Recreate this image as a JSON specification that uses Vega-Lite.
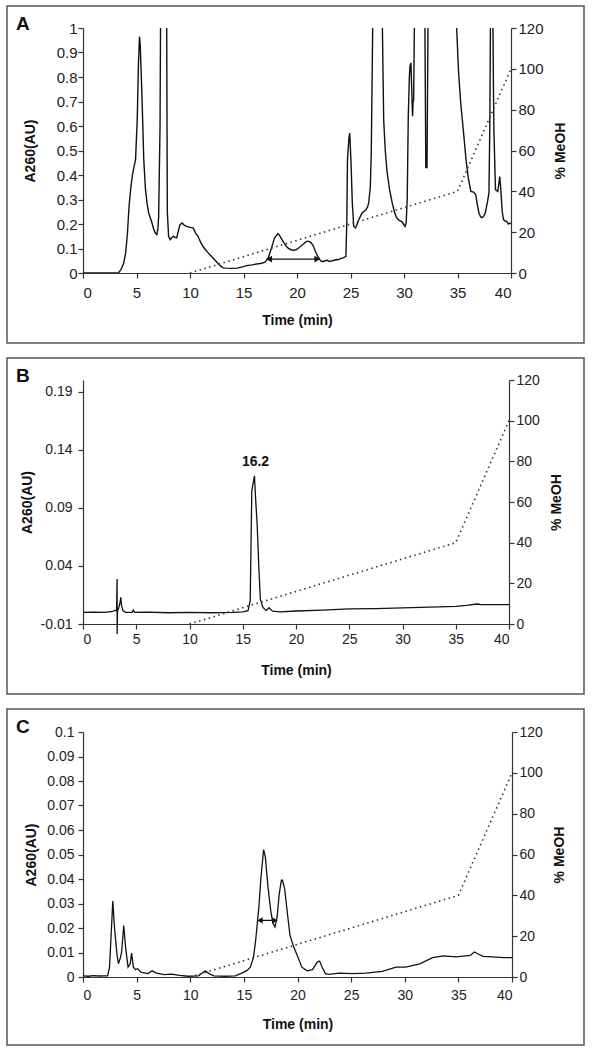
{
  "$schema": "https://vega.github.io/schema/vega-lite/v6.json",
  "padding": {"left": 6, "top": 5, "right": 5, "bottom": 0},
  "background": "white",
  "spacing": 13,
  "datasets": {
    "A": [
      {"t":0,"a":0},{"t":3.3,"a":0},{"t":3.53,"a":0.013},{"t":3.8,"a":0.04},{"t":3.99,"a":0.082},{"t":4.15,"a":0.16},{"t":4.3,"a":0.27},{"t":4.45,"a":0.34},{"t":4.6,"a":0.394},{"t":4.75,"a":0.43},{"t":4.91,"a":0.462},{"t":5.07,"a":0.626},{"t":5.18,"a":0.85},{"t":5.28,"a":0.965},{"t":5.35,"a":0.93},{"t":5.45,"a":0.8},{"t":5.53,"a":0.694},{"t":5.68,"a":0.462},{"t":5.84,"a":0.34},{"t":6.0,"a":0.28},{"t":6.14,"a":0.245},{"t":6.45,"a":0.204},{"t":6.6,"a":0.18},{"t":6.76,"a":0.163},{"t":6.9,"a":0.157},{"t":7.0,"a":0.18},{"t":7.07,"a":0.23},{"t":7.2,"a":0.6},{"t":7.28,"a":1.3},{"t":7.55,"a":1.8},{"t":7.8,"a":1.3},{"t":7.88,"a":0.25},{"t":8.0,"a":0.15},{"t":8.14,"a":0.136},{"t":8.3,"a":0.145},{"t":8.45,"a":0.15},{"t":8.6,"a":0.145},{"t":8.75,"a":0.143},{"t":8.9,"a":0.17},{"t":9.06,"a":0.197},{"t":9.27,"a":0.204},{"t":9.45,"a":0.195},{"t":9.67,"a":0.19},{"t":10.0,"a":0.186},{"t":10.3,"a":0.184},{"t":10.5,"a":0.165},{"t":10.75,"a":0.15},{"t":11.0,"a":0.125},{"t":11.2,"a":0.109},{"t":11.45,"a":0.095},{"t":11.7,"a":0.082},{"t":12.0,"a":0.068},{"t":12.3,"a":0.054},{"t":12.6,"a":0.04},{"t":12.9,"a":0.027},{"t":13.1,"a":0.021},{"t":13.36,"a":0.02},{"t":13.9,"a":0.019},{"t":14.4,"a":0.02},{"t":14.9,"a":0.025},{"t":15.3,"a":0.03},{"t":15.8,"a":0.033},{"t":16.25,"a":0.037},{"t":16.7,"a":0.04},{"t":17.0,"a":0.044},{"t":17.3,"a":0.06},{"t":17.6,"a":0.1},{"t":17.9,"a":0.143},{"t":18.2,"a":0.16},{"t":18.35,"a":0.155},{"t":18.5,"a":0.143},{"t":18.75,"a":0.125},{"t":19.0,"a":0.109},{"t":19.2,"a":0.1},{"t":19.45,"a":0.095},{"t":19.7,"a":0.093},{"t":19.9,"a":0.095},{"t":20.1,"a":0.1},{"t":20.35,"a":0.109},{"t":20.6,"a":0.118},{"t":20.85,"a":0.128},{"t":21.05,"a":0.13},{"t":21.3,"a":0.124},{"t":21.5,"a":0.113},{"t":21.7,"a":0.09},{"t":21.97,"a":0.066},{"t":22.2,"a":0.05},{"t":22.4,"a":0.046},{"t":22.6,"a":0.05},{"t":22.85,"a":0.052},{"t":23.0,"a":0.047},{"t":23.3,"a":0.05},{"t":23.65,"a":0.054},{"t":23.9,"a":0.055},{"t":24.1,"a":0.06},{"t":24.3,"a":0.062},{"t":24.5,"a":0.066},{"t":24.57,"a":0.068},{"t":24.65,"a":0.2},{"t":24.72,"a":0.462},{"t":24.85,"a":0.55},{"t":24.93,"a":0.571},{"t":25.0,"a":0.5},{"t":25.05,"a":0.45},{"t":25.17,"a":0.286},{"t":25.3,"a":0.19},{"t":25.47,"a":0.184},{"t":25.62,"a":0.2},{"t":25.78,"a":0.218},{"t":26.08,"a":0.245},{"t":26.4,"a":0.256},{"t":26.6,"a":0.27},{"t":26.7,"a":0.286},{"t":26.85,"a":0.35},{"t":26.94,"a":0.49},{"t":27.03,"a":0.83},{"t":27.1,"a":1.1},{"t":27.5,"a":1.9},{"t":27.95,"a":1.1},{"t":28.1,"a":0.626},{"t":28.25,"a":0.5},{"t":28.4,"a":0.42},{"t":28.65,"a":0.34},{"t":28.9,"a":0.286},{"t":29.1,"a":0.25},{"t":29.3,"a":0.226},{"t":29.55,"a":0.215},{"t":29.8,"a":0.21},{"t":29.95,"a":0.2},{"t":30.1,"a":0.19},{"t":30.2,"a":0.204},{"t":30.3,"a":0.3},{"t":30.4,"a":0.64},{"t":30.5,"a":0.8},{"t":30.56,"a":0.843},{"t":30.65,"a":0.857},{"t":30.72,"a":0.75},{"t":30.8,"a":0.64},{"t":30.85,"a":0.7},{"t":30.9,"a":0.707},{"t":30.98,"a":1.05},{"t":31.4,"a":1.8},{"t":31.95,"a":1.05},{"t":32.04,"a":0.43},{"t":32.15,"a":0.43},{"t":32.25,"a":1.05},{"t":33.5,"a":2.2},{"t":34.87,"a":1.05},{"t":35.1,"a":0.82},{"t":35.3,"a":0.694},{"t":35.55,"a":0.58},{"t":35.8,"a":0.462},{"t":36.0,"a":0.39},{"t":36.25,"a":0.333},{"t":36.5,"a":0.33},{"t":36.7,"a":0.32},{"t":36.85,"a":0.28},{"t":37.0,"a":0.246},{"t":37.15,"a":0.23},{"t":37.3,"a":0.226},{"t":37.45,"a":0.232},{"t":37.6,"a":0.246},{"t":37.8,"a":0.29},{"t":37.94,"a":0.327},{"t":38.02,"a":0.6},{"t":38.09,"a":1.1},{"t":38.3,"a":1.1},{"t":38.35,"a":0.8},{"t":38.4,"a":0.585},{"t":38.55,"a":0.34},{"t":38.76,"a":0.333},{"t":38.88,"a":0.37},{"t":38.95,"a":0.394},{"t":39.07,"a":0.327},{"t":39.18,"a":0.25},{"t":39.3,"a":0.218},{"t":39.45,"a":0.212},{"t":39.6,"a":0.211},{"t":39.75,"a":0.2},{"t":39.9,"a":0.204},{"t":40,"a":0.2}
    ],
    "B": [
      {"t":0,"a":0.0},{"t":1,"a":0.0003},{"t":2,"a":0.0},{"t":2.8,"a":0.0008},{"t":3.0,"a":0.0018},{"t":3.15,"a":0.001},{"t":3.2,"a":0.0287},{"t":3.21,"a":-0.0186},{"t":3.24,"a":0.001},{"t":3.35,"a":0.004},{"t":3.45,"a":0.0072},{"t":3.55,"a":0.0129},{"t":3.62,"a":0.006},{"t":3.75,"a":0.0015},{"t":4.0,"a":0.0},{"t":4.6,"a":0.0},{"t":4.72,"a":0.002},{"t":4.85,"a":0.0},{"t":6,"a":0.0003},{"t":8,"a":-0.0003},{"t":10,"a":0.0},{"t":12,"a":-0.0003},{"t":14,"a":0.0},{"t":15.0,"a":0.0005},{"t":15.5,"a":0.0015},{"t":15.7,"a":0.01},{"t":15.85,"a":0.1046},{"t":15.95,"a":0.11},{"t":16.1,"a":0.1175},{"t":16.2,"a":0.099},{"t":16.35,"a":0.076},{"t":16.5,"a":0.0416},{"t":16.65,"a":0.0115},{"t":16.9,"a":0.0043},{"t":17.2,"a":0.0015},{"t":17.45,"a":0.004},{"t":17.8,"a":0.001},{"t":18.5,"a":0.0005},{"t":20,"a":0.0012},{"t":22.5,"a":0.002},{"t":25,"a":0.003},{"t":27.5,"a":0.0033},{"t":30,"a":0.0038},{"t":32.5,"a":0.0045},{"t":35,"a":0.0052},{"t":36,"a":0.006},{"t":37,"a":0.0072},{"t":37.3,"a":0.0068},{"t":38.5,"a":0.0066},{"t":40,"a":0.0066}
    ],
    "C": [
      {"t":0,"a":0.0005},{"t":0.5,"a":0.0003},{"t":1,"a":0.0006},{"t":1.5,"a":0.0004},{"t":2,"a":0.0005},{"t":2.3,"a":0.0005},{"t":2.47,"a":0.004},{"t":2.63,"a":0.0177},{"t":2.78,"a":0.031},{"t":2.94,"a":0.02},{"t":3.16,"a":0.0095},{"t":3.3,"a":0.0054},{"t":3.5,"a":0.008},{"t":3.6,"a":0.0102},{"t":3.8,"a":0.021},{"t":3.97,"a":0.0122},{"t":4.2,"a":0.004},{"t":4.4,"a":0.0054},{"t":4.53,"a":0.0098},{"t":4.7,"a":0.004},{"t":4.9,"a":0.003},{"t":5.1,"a":0.0034},{"t":5.4,"a":0.002},{"t":6.06,"a":0.0014},{"t":6.44,"a":0.0025},{"t":6.84,"a":0.0016},{"t":7.6,"a":0.001},{"t":8.25,"a":0.0012},{"t":9.0,"a":0.0007},{"t":9.8,"a":0.0003},{"t":10.75,"a":0.0005},{"t":11.06,"a":0.0014},{"t":11.4,"a":0.0025},{"t":11.75,"a":0.0014},{"t":12.2,"a":0.0005},{"t":13.25,"a":0.0003},{"t":14.2,"a":0.0005},{"t":14.8,"a":0.0016},{"t":15.3,"a":0.0027},{"t":15.6,"a":0.004},{"t":15.9,"a":0.008},{"t":16.1,"a":0.015},{"t":16.4,"a":0.0286},{"t":16.6,"a":0.041},{"t":16.84,"a":0.052},{"t":17.0,"a":0.049},{"t":17.25,"a":0.0367},{"t":17.5,"a":0.0272},{"t":17.7,"a":0.022},{"t":17.9,"a":0.0204},{"t":18.1,"a":0.0245},{"t":18.3,"a":0.034},{"t":18.5,"a":0.0395},{"t":18.6,"a":0.0395},{"t":18.8,"a":0.036},{"t":19.06,"a":0.0259},{"t":19.3,"a":0.017},{"t":19.65,"a":0.0122},{"t":20.1,"a":0.0075},{"t":20.4,"a":0.004},{"t":20.9,"a":0.0025},{"t":21.4,"a":0.003},{"t":21.84,"a":0.0061},{"t":22.06,"a":0.0065},{"t":22.3,"a":0.004},{"t":22.6,"a":0.0014},{"t":22.9,"a":0.0011},{"t":23.9,"a":0.0016},{"t":25.1,"a":0.0014},{"t":26.4,"a":0.0016},{"t":27.9,"a":0.0023},{"t":29.2,"a":0.004},{"t":30.1,"a":0.004},{"t":31.4,"a":0.0054},{"t":32.6,"a":0.0079},{"t":33.6,"a":0.0086},{"t":34.8,"a":0.0082},{"t":36.1,"a":0.0088},{"t":36.5,"a":0.0102},{"t":36.8,"a":0.0095},{"t":37.3,"a":0.0084},{"t":38.2,"a":0.0082},{"t":39.2,"a":0.0079},{"t":40,"a":0.0079}
    ],
    "meoh": [{"t":10,"m":0},{"t":35,"m":40},{"t":40,"m":100}],
    "arrowA": [{"t":17.4,"a":0.057,"dir":"left"},{"t":21.9,"a":0.057,"dir":"right"}],
    "arrowC": [{"t":16.5,"a":0.0231,"dir":"left"},{"t":17.9,"a":0.0231,"dir":"right"}],
    "labelB": [{"t":16.2,"a":0.1235,"label":"16.2"}]
  },
  "vconcat": [
    {
      "title": {"text": "A", "anchor": "start", "frame": "group", "dx": -67, "dy": 44, "fontSize": 19, "fontWeight": "bold", "color": "#111", "offset": 0, "baseline": "alphabetic"},
      "width": 428, "height": 245,
      "layer": [
        {"layer": [
          {"data": {"name": "A"}, "mark": {"type": "line", "color": "#111", "strokeWidth": 1.4, "clip": true},
           "encoding": {
             "x": {"field": "t", "type": "quantitative", "scale": {"domain": [0, 40]}, "axis": {"title": "Time (min)", "values": [0,5,10,15,20,25,30,35,40], "labelPadding": 7, "titlePadding": 13, "labelFontSize": 15}},
             "y": {"field": "a", "type": "quantitative", "scale": {"domain": [0, 1]}, "axis": {"title": "A260(AU)", "values": [0,0.1,0.2,0.3,0.4,0.5,0.6,0.7,0.8,0.9,1], "tickCount": 11, "format": "~g", "labelOverlap": false, "labelPadding": 1, "titlePadding": 19, "labelFontSize": 15}}}},
          {"data": {"values": [{}]}, "mark": {"type": "rect", "fill": "transparent", "stroke": "#555", "strokeWidth": 1.5, "clip": false},
           "encoding": {"x": {"datum": -7.103, "type": "quantitative", "scale": {"domain": [0, 40]}, "axis": {"title": "Time (min)", "values": [0,5,10,15,20,25,30,35,40], "labelPadding": 7, "titlePadding": 13, "labelFontSize": 15}}, "x2": {"datum": 46.822},
                        "y": {"datum": 1.0898, "type": "quantitative", "scale": {"domain": [0, 1]}, "axis": {"title": "A260(AU)", "values": [0,0.1,0.2,0.3,0.4,0.5,0.6,0.7,0.8,0.9,1], "tickCount": 11, "format": "~g", "labelOverlap": false, "labelPadding": 1, "titlePadding": 19, "labelFontSize": 15}}, "y2": {"datum": -0.2857}}},
          {"data": {"name": "arrowA"}, "mark": {"type": "line", "color": "#111", "strokeWidth": 1.3},
           "encoding": {"x": {"field": "t", "type": "quantitative", "scale": {"domain": [0, 40]}, "axis": {"title": "Time (min)", "values": [0,5,10,15,20,25,30,35,40], "labelPadding": 7, "titlePadding": 13, "labelFontSize": 15}},
                        "y": {"field": "a", "type": "quantitative", "scale": {"domain": [0, 1]}, "axis": {"title": "A260(AU)", "values": [0,0.1,0.2,0.3,0.4,0.5,0.6,0.7,0.8,0.9,1], "tickCount": 11, "format": "~g", "labelOverlap": false, "labelPadding": 1, "titlePadding": 19, "labelFontSize": 15}}}},
          {"data": {"name": "arrowA"}, "mark": {"type": "point", "filled": true, "color": "#111", "size": 45, "opacity": 1},
           "encoding": {"x": {"field": "t", "type": "quantitative", "scale": {"domain": [0, 40]}, "axis": {"title": "Time (min)", "values": [0,5,10,15,20,25,30,35,40], "labelPadding": 7, "titlePadding": 13, "labelFontSize": 15}},
                        "y": {"field": "a", "type": "quantitative", "scale": {"domain": [0, 1]}, "axis": {"title": "A260(AU)", "values": [0,0.1,0.2,0.3,0.4,0.5,0.6,0.7,0.8,0.9,1], "tickCount": 11, "format": "~g", "labelOverlap": false, "labelPadding": 1, "titlePadding": 19, "labelFontSize": 15}},
                        "shape": {"field": "dir", "type": "nominal", "scale": {"domain": ["left", "right"], "range": ["triangle-left", "triangle-right"]}, "legend": null}}}
        ]},
        {"data": {"name": "meoh"}, "mark": {"type": "line", "color": "#333", "strokeWidth": 1.6, "strokeDash": [1.5, 3.5]},
         "encoding": {"x": {"field": "t", "type": "quantitative", "scale": {"domain": [0, 40]}, "axis": {"title": "Time (min)", "values": [0,5,10,15,20,25,30,35,40], "labelPadding": 7, "titlePadding": 13, "labelFontSize": 15}},
                      "y": {"field": "m", "type": "quantitative", "scale": {"domain": [0, 120]}, "axis": {"orient": "right", "title": "% MeOH", "values": [0,20,40,60,80,100,120], "titleAngle": 270, "labelPadding": 2, "titlePadding": 24, "labelFontSize": 15}}}}
      ],
      "resolve": {"scale": {"y": "independent"}}
    },
    {
      "title": {"text": "B", "anchor": "start", "frame": "group", "dx": -67, "dy": 44, "fontSize": 19, "fontWeight": "bold", "color": "#111", "offset": 0, "baseline": "alphabetic"},
      "width": 426, "height": 244,
      "layer": [
        {"layer": [
          {"data": {"name": "B"}, "mark": {"type": "line", "color": "#111", "strokeWidth": 1.3, "clip": false},
           "encoding": {
             "x": {"field": "t", "type": "quantitative", "scale": {"domain": [0, 40]}, "axis": {"title": "Time (min)", "values": [0,5,10,15,20,25,30,35,40], "labelPadding": 3, "titlePadding": 17}},
             "y": {"field": "a", "type": "quantitative", "scale": {"domain": [-0.01, 0.2]}, "axis": {"title": "A260(AU)", "values": [-0.01,0.04,0.09,0.14,0.19], "labelExpr": "replace(format(datum.value, '.2f'), '\u2212', '-')", "labelOverlap": false, "labelPadding": 6, "titlePadding": 6}}}},
          {"data": {"values": [{}]}, "mark": {"type": "rect", "fill": "transparent", "stroke": "#555", "strokeWidth": 1.5, "clip": false},
           "encoding": {"x": {"datum": -7.136, "type": "quantitative", "scale": {"domain": [0, 40]}, "axis": {"title": "Time (min)", "values": [0,5,10,15,20,25,30,35,40], "labelPadding": 3, "titlePadding": 17}}, "x2": {"datum": 47.042},
                        "y": {"datum": 0.2189, "type": "quantitative", "scale": {"domain": [-0.01, 0.2]}, "axis": {"title": "A260(AU)", "values": [-0.01,0.04,0.09,0.14,0.19], "labelExpr": "replace(format(datum.value, '.2f'), '\u2212', '-')", "labelOverlap": false, "labelPadding": 6, "titlePadding": 6}}, "y2": {"datum": -0.0702}}},
          {"data": {"name": "labelB"}, "mark": {"type": "text", "fontWeight": "bold", "fontSize": 14, "baseline": "bottom", "color": "#111"},
           "encoding": {"x": {"field": "t", "type": "quantitative", "scale": {"domain": [0, 40]}, "axis": {"title": "Time (min)", "values": [0,5,10,15,20,25,30,35,40], "labelPadding": 3, "titlePadding": 17}},
                        "y": {"field": "a", "type": "quantitative", "scale": {"domain": [-0.01, 0.2]}, "axis": {"title": "A260(AU)", "values": [-0.01,0.04,0.09,0.14,0.19], "labelExpr": "replace(format(datum.value, '.2f'), '\u2212', '-')", "labelOverlap": false, "labelPadding": 6, "titlePadding": 6}},
                        "text": {"field": "label"}}}
        ]},
        {"data": {"name": "meoh"}, "mark": {"type": "line", "color": "#333", "strokeWidth": 1.6, "strokeDash": [1.5, 3.5]},
         "encoding": {"x": {"field": "t", "type": "quantitative", "scale": {"domain": [0, 40]}, "axis": {"title": "Time (min)", "values": [0,5,10,15,20,25,30,35,40], "labelPadding": 3, "titlePadding": 17}},
                      "y": {"field": "m", "type": "quantitative", "scale": {"domain": [0, 120]}, "axis": {"orient": "right", "title": "% MeOH", "values": [0,20,40,60,80,100,120], "titleAngle": 270, "labelPadding": 2, "titlePadding": 24}}}}
      ],
      "resolve": {"scale": {"y": "independent"}}
    },
    {
      "title": {"text": "C", "anchor": "start", "frame": "group", "dx": -67, "dy": 44, "fontSize": 19, "fontWeight": "bold", "color": "#111", "offset": 0, "baseline": "alphabetic"},
      "width": 429, "height": 245,
      "layer": [
        {"layer": [
          {"data": {"name": "C"}, "mark": {"type": "line", "color": "#111", "strokeWidth": 1.3},
           "encoding": {
             "x": {"field": "t", "type": "quantitative", "scale": {"domain": [0, 40]}, "axis": {"title": "Time (min)", "values": [0,5,10,15,20,25,30,35,40], "labelPadding": 6, "titlePadding": 15}},
             "y": {"field": "a", "type": "quantitative", "scale": {"domain": [0, 0.1]}, "axis": {"title": "A260(AU)", "values": [0,0.01,0.02,0.03,0.04,0.05,0.06,0.07,0.08,0.09,0.1], "tickCount": 11, "format": "~g", "labelOverlap": false, "labelPadding": 4, "titlePadding": 8}}}},
          {"data": {"values": [{}]}, "mark": {"type": "rect", "fill": "transparent", "stroke": "#555", "strokeWidth": 1.5, "clip": false},
           "encoding": {"x": {"datum": -7.086, "type": "quantitative", "scale": {"domain": [0, 40]}, "axis": {"title": "Time (min)", "values": [0,5,10,15,20,25,30,35,40], "labelPadding": 6, "titlePadding": 15}}, "x2": {"datum": 46.713},
                        "y": {"datum": 0.10939, "type": "quantitative", "scale": {"domain": [0, 0.1]}, "axis": {"title": "A260(AU)", "values": [0,0.01,0.02,0.03,0.04,0.05,0.06,0.07,0.08,0.09,0.1], "tickCount": 11, "format": "~g", "labelOverlap": false, "labelPadding": 4, "titlePadding": 8}}, "y2": {"datum": -0.027755}}},
          {"data": {"name": "arrowC"}, "mark": {"type": "line", "color": "#111", "strokeWidth": 1.3},
           "encoding": {"x": {"field": "t", "type": "quantitative", "scale": {"domain": [0, 40]}, "axis": {"title": "Time (min)", "values": [0,5,10,15,20,25,30,35,40], "labelPadding": 6, "titlePadding": 15}},
                        "y": {"field": "a", "type": "quantitative", "scale": {"domain": [0, 0.1]}, "axis": {"title": "A260(AU)", "values": [0,0.01,0.02,0.03,0.04,0.05,0.06,0.07,0.08,0.09,0.1], "tickCount": 11, "format": "~g", "labelOverlap": false, "labelPadding": 4, "titlePadding": 8}}}},
          {"data": {"name": "arrowC"}, "mark": {"type": "point", "filled": true, "color": "#111", "size": 40, "opacity": 1},
           "encoding": {"x": {"field": "t", "type": "quantitative", "scale": {"domain": [0, 40]}, "axis": {"title": "Time (min)", "values": [0,5,10,15,20,25,30,35,40], "labelPadding": 6, "titlePadding": 15}},
                        "y": {"field": "a", "type": "quantitative", "scale": {"domain": [0, 0.1]}, "axis": {"title": "A260(AU)", "values": [0,0.01,0.02,0.03,0.04,0.05,0.06,0.07,0.08,0.09,0.1], "tickCount": 11, "format": "~g", "labelOverlap": false, "labelPadding": 4, "titlePadding": 8}},
                        "shape": {"field": "dir", "type": "nominal", "scale": {"domain": ["left", "right"], "range": ["triangle-left", "triangle-right"]}, "legend": null}}}
        ]},
        {"data": {"name": "meoh"}, "mark": {"type": "line", "color": "#333", "strokeWidth": 1.6, "strokeDash": [1.5, 3.5]},
         "encoding": {"x": {"field": "t", "type": "quantitative", "scale": {"domain": [0, 40]}, "axis": {"title": "Time (min)", "values": [0,5,10,15,20,25,30,35,40], "labelPadding": 6, "titlePadding": 15}},
                      "y": {"field": "m", "type": "quantitative", "scale": {"domain": [0, 120]}, "axis": {"orient": "right", "title": "% MeOH", "values": [0,20,40,60,80,100,120], "titleAngle": 270, "labelPadding": 2, "titlePadding": 24}}}}
      ],
      "resolve": {"scale": {"y": "independent"}}
    }
  ],
  "config": {
    "view": {"stroke": null},
    "font": "Liberation Sans",
    "axis": {"grid": false, "domainColor": "#333", "tickColor": "#333", "domainWidth": 1.2, "tickWidth": 1.2, "tickSize": 5,
             "labelColor": "#222", "titleColor": "#111", "labelFont": "Liberation Sans", "titleFont": "Liberation Sans",
             "labelFontSize": 14, "titleFontSize": 14, "titleFontWeight": "bold"}
  }
}
